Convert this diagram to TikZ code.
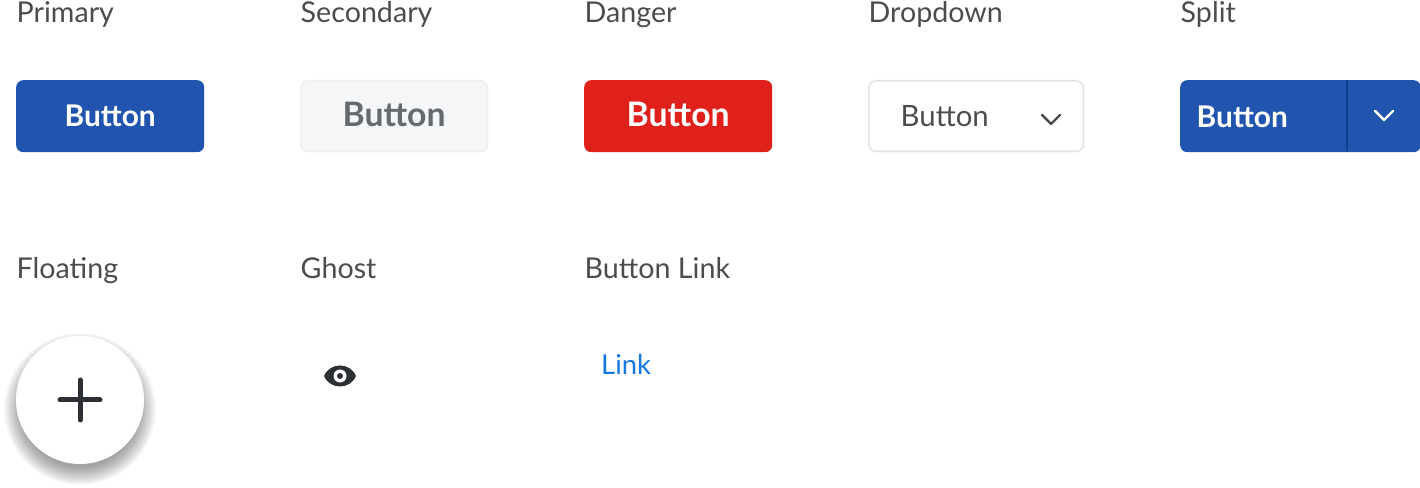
\documentclass[tikz,border=0pt]{standalone}
\usepackage{fontspec}
\setmainfont{Lato}
\usepackage{tikz}
\usetikzlibrary{positioning,calc}
\definecolor{btnblue}{HTML}{2054AF}
\definecolor{btnbluedark}{HTML}{123F8C}
\definecolor{btnred}{HTML}{E0201B}
\definecolor{btngray}{HTML}{F5F6F8}
\definecolor{btngrayline}{HTML}{EDEFF0}
\definecolor{btngraytext}{HTML}{666A6E}
\definecolor{ddline}{HTML}{E3E6E9}
\definecolor{labeltext}{HTML}{4A4D50}
\definecolor{icondark}{HTML}{2C2F33}
\definecolor{linkblue}{HTML}{1277E1}
\tikzset{
  titlelabel/.style={anchor=base west,inner sep=0pt,text=labeltext,font=\fontsize{8.15}{10}\selectfont},
  basebtn/.style={anchor=north west,rounded corners=2pt,minimum height=7.2mm,inner sep=0pt,font=\fontsize{8.5}{10}\selectfont\bfseries},
  primarybtn/.style={basebtn,fill=btnblue,text=white,minimum width=18.8mm},
  secondarybtn/.style={basebtn,fill=btngray,draw=btngrayline,line width=0.5pt,text=btngraytext,minimum width=18.65mm,minimum height=7.05mm,text depth=0.4mm,font=\fontsize{9.6}{10}\selectfont\bfseries},
  dangerbtn/.style={basebtn,fill=btnred,text=white,minimum width=18.8mm,text depth=0.3mm,font=\fontsize{9.6}{10}\selectfont\bfseries},
  chevron/.style={line width=0.7pt,line cap=round,line join=round}
}
\begin{document}
\begin{tikzpicture}[x=1cm,y=1cm]
    \useasboundingbox (0,0) rectangle (14.2,4.88);
    % top row titles
    \node[titlelabel] (primarytitle) at (0.16,4.65) {Primary};
    \node[titlelabel] (secondarytitle) at (3.00,4.65) {Secondary};
    \node[titlelabel] (dangertitle) at (5.84,4.65) {Danger};
    \node[titlelabel] (dropdowntitle) at (8.68,4.65) {Dropdown};
    \node[titlelabel] (splittitle) at (11.80,4.65) {Split};
    % buttons
    \node[primarybtn] (primary) at (0.155,4.085) {Button};
    \node[secondarybtn] (secondary) at (3.00,4.08) {Button};
    \node[dangerbtn] (danger) at (5.835,4.085) {Button};
    \node[basebtn,draw=ddline,line width=0.5pt,fill=white,minimum width=21.45mm,minimum height=7.05mm,font=\fontsize{8.2}{10}\selectfont] (dropdown) at (8.68,4.08) {};
    \node[anchor=west,inner sep=0pt,text=labeltext,font=\fontsize{8.35}{10}\selectfont] (dropdowntext) at (9.00,3.72) {Button};
    \draw[chevron,draw=labeltext] (10.42,3.73) -- (10.51,3.64) -- (10.60,3.73);
    \node[primarybtn,minimum width=24.05mm] (split) at (11.795,4.085) {};
    \node[anchor=west,inner sep=0pt,text=white,font=\fontsize{8.5}{10}\selectfont\bfseries] (splittext) at (11.96,3.715) {Button};
    \draw[btnbluedark,line width=0.5pt] (13.47,4.075) -- (13.47,3.365);
    \draw[chevron,draw=white] (13.75,3.77) -- (13.84,3.68) -- (13.93,3.77);
    % bottom row titles
    \node[titlelabel] (floatingtitle) at (0.16,2.09) {Floating};
    \node[titlelabel] (ghosttitle) at (3.00,2.09) {Ghost};
    \node[titlelabel] (linktitle) at (5.84,2.09) {Button Link};
    % floating button with soft shadow
    \foreach \r in {0.58,0.59,...,0.76}
      \fill[black,opacity=0.024] (0.80,0.79) circle (\r);
    \node[circle,fill=white,minimum size=12.8mm,inner sep=0pt] (floating) at (0.80,0.88) {};
    \draw[icondark,line width=0.5mm,line cap=round] (0.60,0.88) -- (1.00,0.88);
    \draw[icondark,line width=0.5mm,line cap=round] (0.80,0.68) -- (0.80,1.08);
    % ghost eye icon
    \coordinate (ghost) at (3.40,1.12);
    \fill[icondark] ($(ghost)+(-0.16,0)$) .. controls ($(ghost)+(-0.10,0.14)$) and ($(ghost)+(0.10,0.14)$) .. ($(ghost)+(0.16,0)$) .. controls ($(ghost)+(0.10,-0.14)$) and ($(ghost)+(-0.10,-0.14)$) .. cycle;
    \fill[white] (ghost) circle (0.065);
    \fill[icondark] (ghost) circle (0.03);
    % link
    \node[anchor=base west,inner sep=0pt,text=linkblue,font=\fontsize{7.8}{10}\selectfont] (link) at (6.005,1.13) {Link};
  \end{tikzpicture}
\end{document}
